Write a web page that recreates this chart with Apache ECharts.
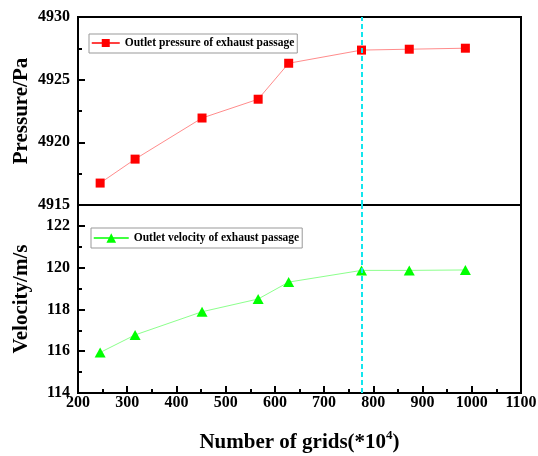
<!DOCTYPE html>
<html>
<head>
<meta charset="utf-8">
<script src="https://cdn.jsdelivr.net/npm/echarts@6/dist/echarts.min.js"></script>
<style>
  html, body { margin: 0; padding: 0; background: #fff; }
  #chart { width: 538px; height: 456px; }
</style>
</head>
<body>
<div id="chart"></div>
<script>
// Grid-independence study: mesh size (×10^4 cells) vs outlet quantities
const gridCounts = [245, 316, 452, 566, 628, 776, 873, 987];
const pressure = [4916.75, 4918.66, 4921.94, 4923.44, 4926.31, 4927.36, 4927.43, 4927.51];
const velocity = [115.94, 116.78, 117.89, 118.50, 119.31, 119.87, 119.87, 119.89];
const chosenGrid = 776;

const gridRange = [200, 1100];
const pressureRange = [4915, 4930];
const velocityRange = [114, 123];
const velocityMinorTicks = [115, 117, 119, 121];

const pressureName = 'Outlet pressure of exhaust passage';
const velocityName = 'Outlet velocity of exhaust passage';

const serif = '"Liberation Serif", "Times New Roman", serif';
const black = '#000';

const plain = v => String(v);

const axisLineStyle = { show: true, lineStyle: { color: black, width: 2 } };
const majorTick = { show: true, inside: true, length: 7, lineStyle: { color: black, width: 2 } };
const minorTick = { show: true, splitNumber: 2, length: 4, lineStyle: { color: black, width: 2 } };
const tickLabel = { fontSize: 16, fontWeight: 'bold', fontFamily: serif, color: black, formatter: plain };
const titleText = { fontSize: 21, fontWeight: 'bold', fontFamily: serif, color: black };

const cutLine = {
  silent: true,
  symbol: 'none',
  z: 10,
  label: { show: false },
  lineStyle: { color: '#12E6EE', type: [5, 3], width: 2 },
  data: [{ xAxis: chosenGrid }]
};

const legendText = { fontSize: 11.5, fontWeight: 'bold', fontFamily: serif, color: black };

const panel = top => ({
  left: 78, top: top, width: 443, height: 188,
  show: true, borderColor: black, borderWidth: 2,
  outerBoundsMode: 'none', containLabel: false
});

const option = {
  animation: false,
  backgroundColor: '#fff',
  grid: [panel(17), panel(205)],
  legend: [
    {
      data: [pressureName],
      left: 89, top: 34,
      padding: [3, 3, 4, 2],
      itemWidth: 28, itemHeight: 10,
      textStyle: legendText,
      borderColor: '#999', borderWidth: 1, backgroundColor: '#fff',
      lineStyle: { color: '#FF0000', width: 1.5 }
    },
    {
      data: [velocityName],
      left: 91, top: 228,
      padding: [4, 3, 4, 2],
      itemWidth: 35, itemHeight: 12,
      textStyle: legendText,
      borderColor: '#999', borderWidth: 1, backgroundColor: '#fff',
      lineStyle: { color: '#00FF00', width: 1.5 }
    }
  ],
  xAxis: [
    {
      gridIndex: 0, type: 'value',
      min: gridRange[0], max: gridRange[1], interval: 100,
      axisLine: axisLineStyle,
      axisTick: { show: false },
      axisLabel: { show: false },
      splitLine: { show: false }
    },
    {
      gridIndex: 1, type: 'value',
      min: gridRange[0], max: gridRange[1], interval: 100,
      axisLine: axisLineStyle,
      axisTick: majorTick,
      minorTick: minorTick,
      axisLabel: Object.assign({ margin: 2 }, tickLabel),
      splitLine: { show: false },
      name: 'Number of grids(*10{sup|4})',
      nameLocation: 'middle',
      nameGap: 36,
      nameMoveOverlap: false,
      nameTextStyle: Object.assign({
        rich: { sup: { fontSize: 13, fontWeight: 'bold', fontFamily: serif, color: black, padding: [0, 0, 14, 0] } }
      }, titleText)
    }
  ],
  yAxis: [
    {
      gridIndex: 0, type: 'value',
      min: pressureRange[0], max: pressureRange[1], interval: 5,
      axisLine: axisLineStyle,
      axisTick: majorTick,
      minorTick: minorTick,
      axisLabel: Object.assign({ margin: 8 }, tickLabel),
      splitLine: { show: false },
      name: 'Pressure/Pa',
      nameLocation: 'middle',
      nameGap: 46,
      nameMoveOverlap: false,
      nameTextStyle: titleText
    },
    {
      gridIndex: 1, type: 'value', position: 'left',
      min: velocityRange[0], max: velocityRange[1], interval: 2,
      axisLine: axisLineStyle,
      axisTick: majorTick,
      axisLabel: Object.assign({ margin: 8, showMaxLabel: false }, tickLabel),
      splitLine: { show: false },
      name: 'Velocity/m/s',
      nameLocation: 'middle',
      nameGap: 46,
      nameMoveOverlap: false,
      nameTextStyle: titleText
    },
    {
      // odd-valued minor ticks on the velocity axis
      gridIndex: 1, type: 'value', position: 'left', offset: 0,
      min: velocityRange[0], max: velocityRange[1],
      axisLine: { show: false },
      axisTick: { show: true, inside: true, length: 4, customValues: velocityMinorTicks, lineStyle: { color: black, width: 2 } },
      axisLabel: { show: false },
      splitLine: { show: false }
    }
  ],
  series: [
    {
      name: pressureName,
      type: 'line',
      xAxisIndex: 0, yAxisIndex: 0,
      data: gridCounts.map((g, i) => [g, pressure[i]]),
      symbol: 'rect', symbolSize: 9,
      itemStyle: { color: '#FF0000' },
      lineStyle: { color: '#FF8C8C', width: 1 },
      markLine: cutLine
    },
    {
      name: velocityName,
      type: 'line',
      xAxisIndex: 1, yAxisIndex: 1,
      data: gridCounts.map((g, i) => [g, velocity[i]]),
      symbol: 'triangle', symbolSize: [11, 10],
      itemStyle: { color: '#00FF00' },
      lineStyle: { color: '#8CFF8C', width: 1 },
      markLine: cutLine
    }
  ]
};

const chart = echarts.init(document.getElementById('chart'), null, { renderer: 'canvas' });
chart.setOption(option);
</script>
</body>
</html>
